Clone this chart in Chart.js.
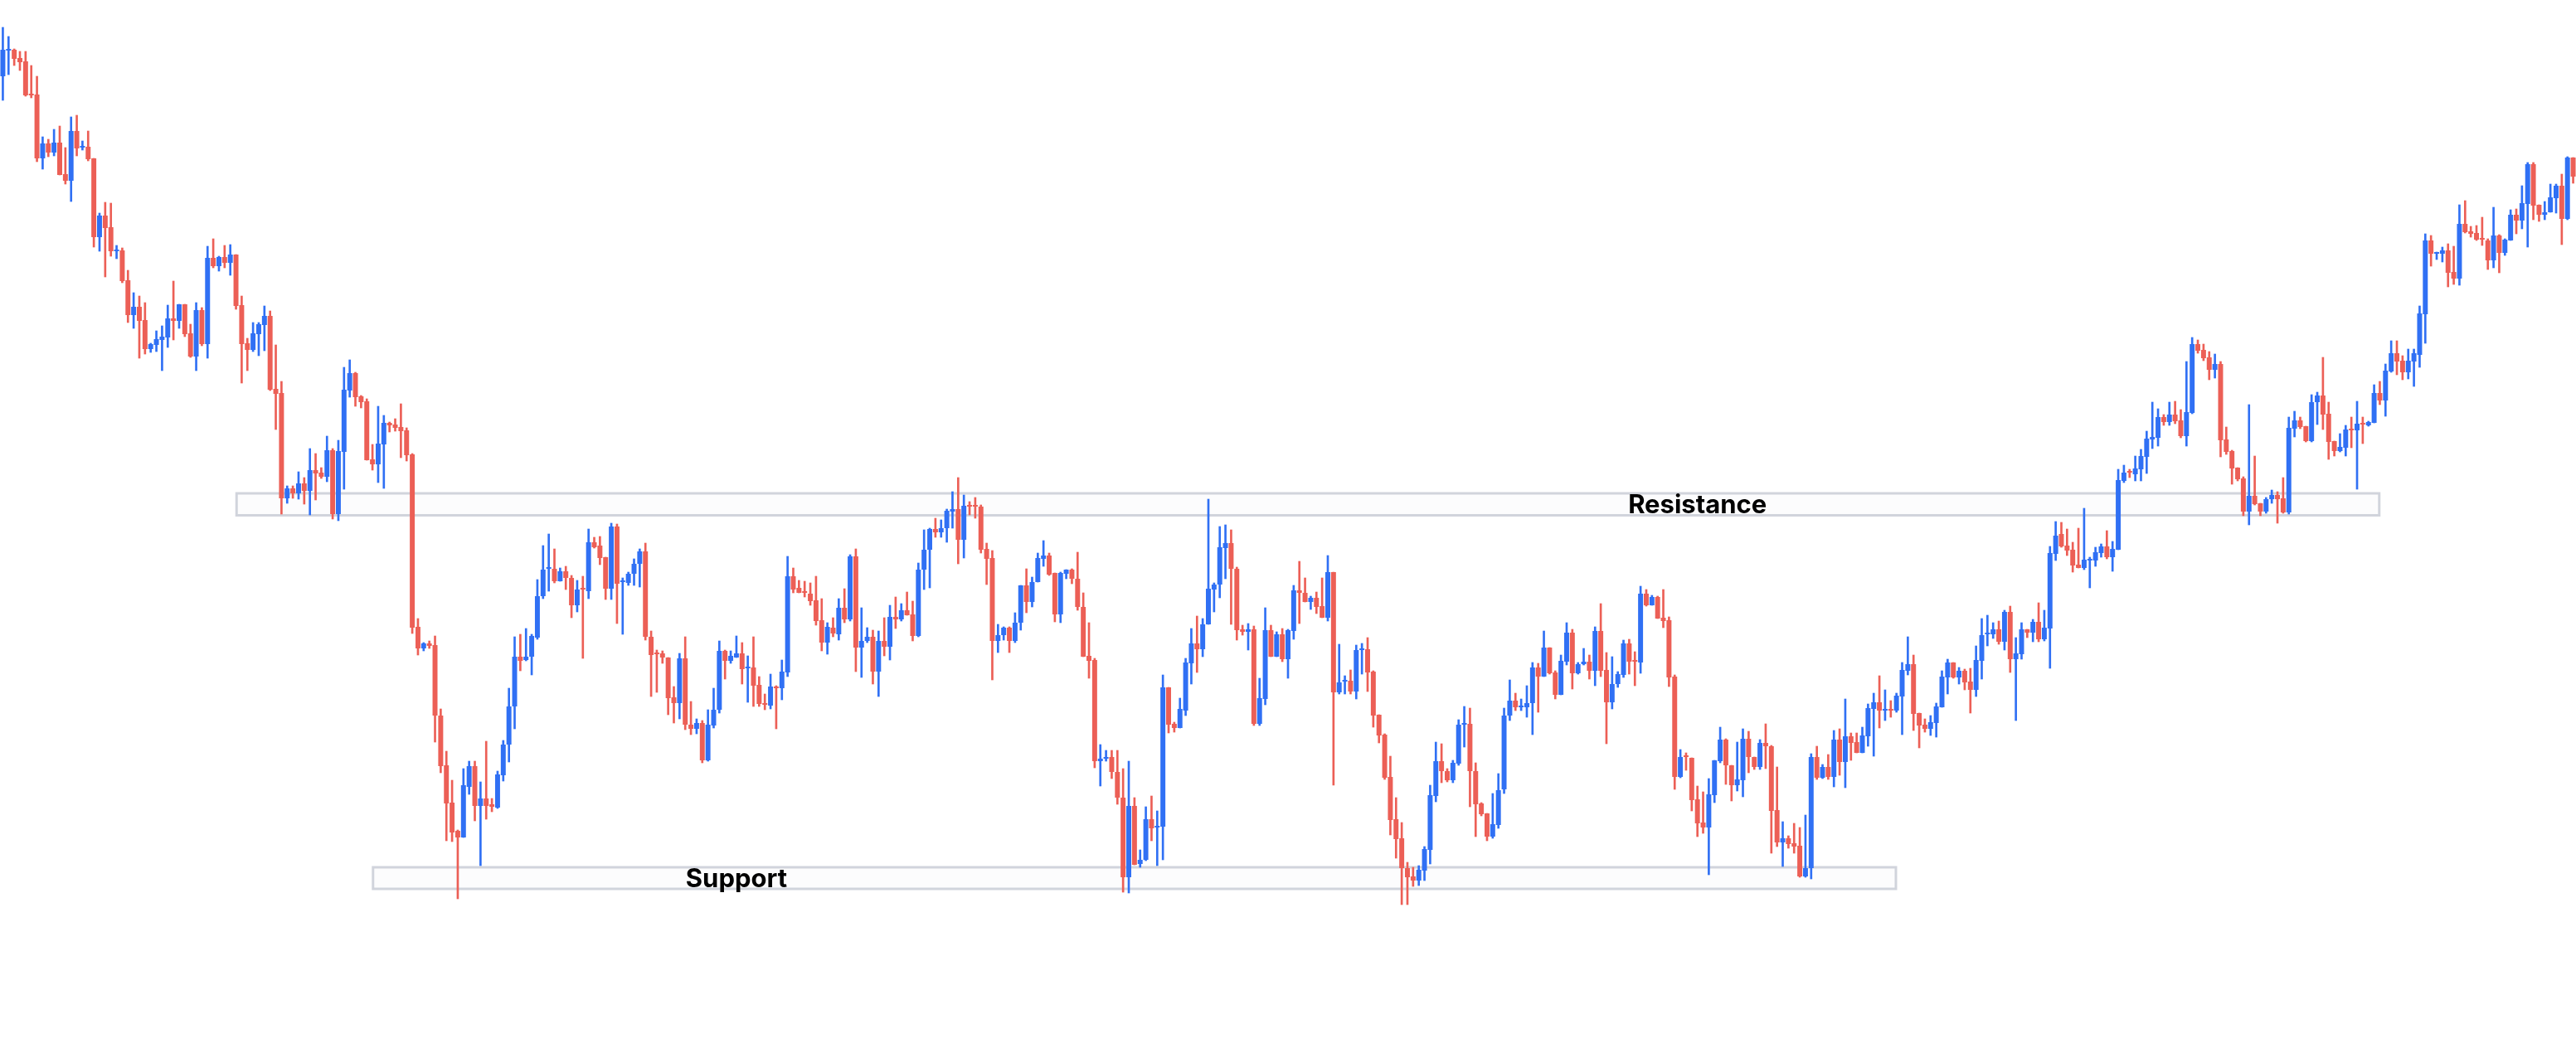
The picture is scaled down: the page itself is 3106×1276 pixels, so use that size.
<!DOCTYPE html>
<html>
<head>
<meta charset="utf-8">
<title>Support / Resistance</title>
<script src="https://cdn.jsdelivr.net/npm/chart.js@4.4.1/dist/chart.umd.min.js"></script>
<style>
  html, body { margin: 0; padding: 0; background: #ffffff; overflow: hidden; }
  canvas { display: block; }
</style>
</head>
<body>
<canvas id="candle_chart" width="3106" height="1276"></canvas>
<script>
// ▰▰▰▰▰ OHLC candles (price points) ▰▰▰▰▰
const opens = [
  1208,1239,1240,1230,1226,1186,1186,1109,1127,1116,1128,1090,1082,1142,1122,1123,1109,1014,1040,1026,
  997,998,962,920,930,914,879,884,890,893,916,913,933,898,870,926,885,989,979,990,
  983,993,932,886,878,897,908,919,831,826,699,711,705,717,708,733,730,725,757,680,
  755,829,850,822,816,746,740,764,790,788,785,781,752,544,518,524,522,437,377,332,
  298,290,351,376,328,337,330,326,365,402,448,508,504,508,531,581,614,614,599,611,
  603,570,590,587,646,642,628,590,665,598,597,608,620,635,532,512,512,507,459,452,
  506,426,421,428,383,425,444,515,503,507,512,494,495,474,452,449,471,470,489,605,
  591,586,584,576,552,525,543,535,567,553,629,519,527,532,490,527,520,556,553,564,
  559,533,613,637,662,658,663,683,686,649,690,690,689,638,627,527,534,543,527,549,
  594,574,598,626,630,609,559,608,613,602,568,509,504,382,385,387,369,338,242,328,
  258,263,312,302,303,471,427,422,443,500,524,517,547,589,595,639,645,614,541,538,
  541,427,457,540,508,535,505,539,588,585,574,579,569,555,610,465,478,479,466,516,
  517,490,438,414,363,312,289,253,243,238,250,275,340,382,370,359,379,426,427,370,
  331,319,291,305,348,437,455,447,447,452,495,484,519,489,462,502,537,488,499,502,
  491,539,492,453,475,486,524,503,501,584,570,580,555,552,484,363,388,386,336,308,
  302,341,382,408,377,353,359,409,387,375,404,400,323,284,289,283,280,243,253,387,
  362,375,363,408,381,412,405,392,412,445,453,443,444,443,460,491,499,440,426,421,
  428,447,483,501,483,491,478,468,503,535,535,541,526,562,505,511,541,537,550,529,
  542,632,656,642,637,619,615,624,624,633,641,628,637,720,731,728,734,749,770,772,
  797,791,800,793,774,802,885,878,869,854,861,770,756,736,723,683,702,693,683,698,
  703,699,682,783,793,786,768,815,823,801,768,756,760,783,781,790,787,790,826,817,
  852,874,865,851,864,872,921,1010,994,994,998,972,964,1030,1021,1019,1013,1010,986,1016,
  995,1010,1041,1034,1054,1102,1053,1041,1044,1061,1076,1036,1110,
];

const highs = [
  1267,1256,1241,1238,1238,1221,1208,1135,1132,1144,1148,1122,1159,1161,1130,1142,1109,1043,1056,1055,
  1004,1001,974,947,943,935,886,901,907,932,961,933,933,909,935,929,1003,1012,991,1004,
  1005,993,943,892,911,911,931,925,884,840,714,714,731,724,759,753,736,774,759,769,
  857,866,851,823,819,764,810,799,791,795,813,784,753,554,525,527,533,445,394,359,
  299,373,382,382,357,406,337,370,407,470,532,535,542,535,601,642,656,638,615,617,
  606,600,605,662,652,653,628,669,668,603,610,626,638,645,539,516,515,507,472,512,
  532,454,433,431,444,470,527,516,515,533,525,509,532,484,463,487,473,504,629,615,
  600,599,597,605,578,549,555,578,590,631,638,567,543,540,539,555,570,580,572,586,
  575,621,661,663,675,673,686,707,724,703,695,700,691,645,636,547,544,544,561,594,
  614,604,633,648,633,609,610,613,614,634,585,549,506,402,395,395,395,373,382,338,
  275,327,340,322,486,471,429,458,506,542,557,554,698,597,665,667,661,616,546,548,
  545,482,567,546,538,542,541,594,623,603,581,586,603,630,610,523,485,492,522,524,
  531,491,438,415,388,338,308,260,254,256,279,353,405,403,373,383,432,448,446,380,
  332,319,343,367,446,480,464,457,473,501,500,539,519,491,510,549,541,501,518,510,
  544,572,513,508,490,528,529,514,593,589,582,581,589,556,486,396,392,386,352,345,
  361,383,423,409,377,405,421,418,387,408,427,401,375,309,292,307,302,317,391,400,
  378,390,419,421,457,416,416,423,451,464,485,468,455,464,501,532,510,440,433,437,
  452,491,505,501,495,493,494,521,554,558,549,551,564,569,531,549,541,553,573,564,
  641,671,670,662,646,663,687,628,640,644,660,647,734,739,734,750,758,780,815,807,
  800,815,816,806,864,893,890,885,876,873,864,785,757,736,725,812,750,693,700,709,
  707,724,797,804,797,786,824,827,869,815,768,777,787,797,816,797,792,836,840,861,
  889,889,871,879,879,931,1018,1016,996,1002,1006,1003,1053,1058,1027,1028,1038,1012,1050,1017,
  1012,1047,1048,1076,1104,1104,1053,1057,1078,1078,1090,1111,1110,
];

const lows = [
  1179,1210,1221,1215,1184,1182,1105,1096,1111,1112,1089,1078,1057,1112,1119,1106,1002,997,966,991,
  988,959,911,904,868,873,875,876,853,881,890,904,894,869,853,883,868,977,973,977,
  968,927,838,853,876,871,877,829,782,680,693,699,698,692,679,697,723,719,674,672,
  710,821,810,808,745,733,718,711,779,780,748,744,536,510,515,518,405,368,286,285,
  216,290,342,310,256,312,321,325,358,381,421,491,503,486,529,578,587,597,599,589,
  555,562,506,578,639,619,577,577,548,535,594,594,592,528,460,465,500,438,428,433,
  420,414,415,380,382,422,440,481,500,507,475,453,448,448,444,445,421,456,484,585,
  585,580,570,546,515,511,532,528,549,551,490,483,525,475,460,509,504,542,551,558,
  527,532,589,591,652,652,646,663,620,627,679,675,633,595,480,513,528,513,525,540,
  561,568,598,617,606,550,549,602,596,564,508,482,374,352,382,361,330,224,223,257,
  254,262,286,256,263,416,417,422,437,475,489,508,547,562,579,602,547,528,534,516,
  425,425,450,508,508,502,482,529,548,574,565,560,555,551,353,463,463,463,457,487,
  466,423,404,360,293,265,209,209,231,232,238,258,333,356,357,356,377,399,327,291,
  316,286,289,301,343,431,443,443,435,414,441,484,487,457,462,498,469,487,498,481,
  473,484,403,445,471,483,487,473,488,569,570,554,543,472,348,362,371,322,291,295,
  245,332,380,354,334,346,339,368,372,372,373,271,279,255,277,271,242,242,240,360,
  361,360,351,365,350,383,392,392,400,388,422,431,435,441,414,486,419,398,417,413,
  411,447,463,482,475,468,440,460,481,521,530,523,516,489,431,505,531,526,526,527,
  494,624,640,630,610,615,613,591,617,628,626,611,637,718,724,720,720,729,759,762,
  787,787,789,772,762,801,874,865,842,844,749,752,716,720,678,667,691,678,681,693,
  669,681,680,773,783,767,767,788,782,746,750,755,750,760,710,765,786,790,812,798,
  851,848,842,843,834,857,886,979,987,984,954,957,956,1019,1014,1010,1004,975,977,971,
  992,1010,1018,1024,1002,1035,1033,1035,1044,1043,1005,1035,1079,
];

const closes = [
  1240,1241,1229,1225,1185,1185,1109,1127,1116,1128,1089,1082,1142,1121,1123,1108,1014,1040,1025,997,
  998,961,920,930,913,879,885,891,894,916,913,933,897,870,926,885,989,979,990,983,
  993,931,885,878,898,909,919,830,825,699,711,705,717,708,733,729,725,757,680,756,
  830,850,821,815,745,740,765,790,787,784,780,751,543,518,524,521,437,376,331,296,
  290,353,376,328,337,328,327,366,402,448,508,503,508,533,581,613,615,599,611,603,
  570,589,589,646,640,627,590,665,596,599,608,620,635,532,510,511,507,458,452,506,
  426,421,428,383,426,444,515,503,509,512,493,495,473,451,450,472,470,490,605,589,
  585,585,575,551,525,544,536,567,553,629,519,527,532,490,527,520,556,553,564,558,
  533,613,637,662,658,663,684,686,649,690,689,689,637,626,527,534,543,527,549,594,
  574,598,627,630,607,559,609,613,602,568,508,503,382,385,387,369,338,242,328,257,
  263,312,301,303,471,426,422,445,501,524,517,547,590,595,640,645,614,540,538,541,
  427,458,540,508,535,505,540,588,585,574,579,568,555,610,465,477,479,466,516,517,
  489,437,413,362,311,288,253,242,238,251,276,341,382,370,359,380,426,427,370,330,
  318,291,306,347,437,455,447,448,452,495,484,519,488,462,503,537,488,499,502,491,
  539,491,453,475,487,524,502,502,584,570,580,554,551,483,363,387,387,335,307,302,
  342,383,408,377,353,360,409,387,375,404,400,322,284,289,282,279,243,253,387,362,
  375,363,408,381,412,404,392,413,446,453,443,444,443,461,492,499,439,425,421,429,
  448,484,501,483,491,477,468,504,534,537,541,526,562,505,512,541,537,550,529,543,
  633,654,641,636,618,615,625,626,634,641,628,638,721,730,730,735,750,771,773,797,
  791,800,792,774,803,885,877,868,854,861,769,755,735,722,683,702,692,683,698,703,
  698,682,784,793,785,768,815,823,800,767,756,761,782,781,789,788,791,826,817,853,
  874,864,851,865,874,922,1010,994,996,998,971,964,1030,1020,1018,1011,1011,986,1016,995,
  1011,1041,1034,1055,1102,1052,1041,1044,1062,1076,1036,1110,1087,
];

// candle numbers used as categories
const candle_labels = opens.map((_, i) => i + 1);

// ▰▰▰▰▰ zones (candle index range, price range) ▰▰▰▰▰
const zone_names = ["Resistance", "Support"];
const zone_from = [41.1, 65.1];
const zone_to = [417.9, 332.9];
const zone_top = [705, 254];
const zone_bottom = [678.5, 228];
const zone_label_at = [298, 129];

const UP = "#3070f4";
const DOWN = "#ec5f56";

const candle_colors = opens.map((o, i) => (closes[i] >= o ? UP : DOWN));

const zones_plugin = {
  id: "zones",
  beforeDatasetsDraw(chart) {
    const ctx = chart.ctx;
    const x = chart.scales.x;
    const y = chart.scales.y;
    ctx.save();
    zone_names.forEach((name, i) => {
      const x0 = x.getPixelForValue(zone_from[i]);
      const x1 = x.getPixelForValue(zone_to[i]);
      const y0 = y.getPixelForValue(zone_top[i]);
      const y1 = y.getPixelForValue(zone_bottom[i]);
      ctx.fillStyle = "rgba(209, 212, 220, 0.06)";
      ctx.fillRect(x0, y0, x1 - x0, y1 - y0);
      ctx.strokeStyle = "#d1d4dc";
      ctx.lineWidth = 3;
      ctx.strokeRect(x0, y0, x1 - x0, y1 - y0);

      ctx.fillStyle = "#000000";
      ctx.font = "bold 31px Inter";
      ctx.textAlign = "center";
      ctx.textBaseline = "alphabetic";
      ctx.fillText(name, x.getPixelForValue(zone_label_at[i]), (y0 + y1) / 2 + 11);
    });
    ctx.restore();
  },
};

const config_candle = {
  type: "bar",
  data: {
    labels: candle_labels,
    datasets: [
      {
        label: "body",
        data: opens.map((o, i) => [o, closes[i]]),
        backgroundColor: candle_colors,
        borderWidth: 0,
        barPercentage: 0.87,
        categoryPercentage: 1.0,
        minBarLength: 2,
        grouped: false,
      },
      {
        label: "wick",
        data: lows.map((l, i) => [l, highs[i]]),
        backgroundColor: candle_colors,
        borderWidth: 0,
        barThickness: 2,
        grouped: false,
      },
    ],
  },
  options: {
    responsive: false,
    devicePixelRatio: 1,
    animation: false,
    layout: { padding: 0 },
    plugins: {
      legend: { display: false },
      tooltip: { enabled: false },
    },
    scales: {
      x: { display: false, grid: { display: false } },
      y: { display: false, min: 24, max: 1300, grid: { display: false } },
    },
  },
  plugins: [zones_plugin],
};

const candle_chart = new Chart(
  document.getElementById("candle_chart"),
  config_candle
);
</script>
</body>
</html>
